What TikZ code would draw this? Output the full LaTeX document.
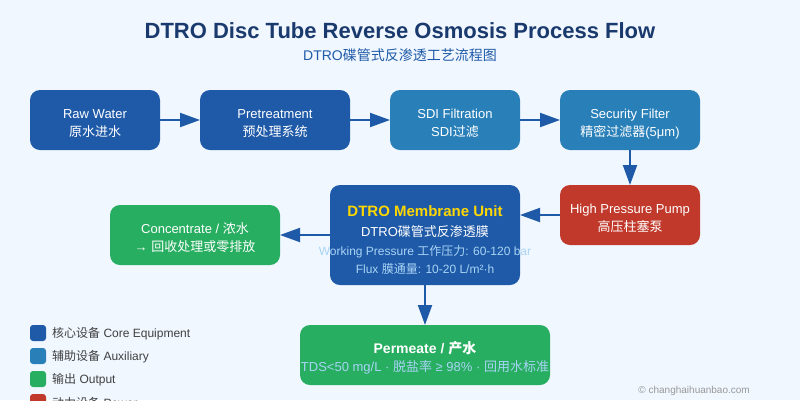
\documentclass[tikz,border=0pt]{standalone}
\usepackage{fontspec}
\setmainfont{Liberation Sans}
\newfontfamily\cjk{Noto Sans CJK SC}
\usetikzlibrary{arrows.meta}
\definecolor{bgc}{HTML}{F0F7FF}
\definecolor{corec}{HTML}{1F5AA8}
\definecolor{auxc}{HTML}{2980B9}
\definecolor{outc}{HTML}{27AE60}
\definecolor{powc}{HTML}{C0392B}
\definecolor{titc}{HTML}{1A3A6E}
\definecolor{palec}{HTML}{A8D4F5}
\definecolor{leadc}{HTML}{FFD700}
\newcommand{\cn}[1]{{\cjk #1}}
\newcommand{\fs}[1]{\fontsize{#1}{#1}\selectfont}
\newcommand{\tp}[1][17pt]{\rule{0pt}{#1}}
\tikzset{
  bx/.style={rounded corners=10pt,inner sep=0pt,outer sep=0pt,text=white,align=center,font=\fontsize{13}{18}\selectfont},
  flow/.style={draw=corec,line width=2pt,-{Triangle[length=20pt,width=14pt]}},
  key/.style={fill=#1,rounded corners=3pt,minimum size=16pt,inner sep=0pt,outer sep=0pt},
  keytx/.style={anchor=west,inner sep=0pt,text=black!75,font=\fs{12}}
}
\begin{document}
\begin{tikzpicture}[x=1pt,y=-1pt]
  \useasboundingbox[fill=bgc] (0,0) rectangle (800,400);
  % heading
  \node[text=titc,font=\bfseries\fs{22}] (head) at (400,31) {DTRO Disc Tube Reverse Osmosis Process Flow};
  \node[text=corec,font=\fs{14}] (subhead) at (400,55) {DTRO\cn{碟管式反渗透工艺流程图}};
  % top row
  \node[bx,fill=corec,minimum width=130pt,minimum height=60pt] (raw) at (95,120) {\tp Raw Water\\\cn{原水进水}};
  \node[bx,fill=corec,minimum width=150pt,minimum height=60pt] (pre) at (275,120) {\tp Pretreatment\\\cn{预处理系统}};
  \node[bx,fill=auxc,minimum width=130pt,minimum height=60pt] (sdi) at (455,120) {\tp SDI Filtration\\SDI\cn{过滤}};
  \node[bx,fill=auxc,minimum width=140pt,minimum height=60pt] (sec) at (630,120) {\tp Security Filter\\\cn{精密过滤器}(5μm)};
  % middle row
  \node[bx,fill=powc,minimum width=140pt,minimum height=60pt] (pump) at (630,215) {\tp High Pressure Pump\\\cn{高压柱塞泵}};
  \node[bx,fill=corec,minimum width=190pt,minimum height=100pt] (mem) at (425,235) {%
    \tp[20pt]{\color{leadc}\bfseries\fs{15}DTRO Membrane Unit}\\[2pt]
    DTRO\cn{碟管式反渗透膜}\\[1.5pt]
    {\color{palec}\fs{12}\makebox[0pt]{Working Pressure \cn{工作压力}: 60-120 bar}}\\[-0.5pt]
    {\color{palec}\fs{12}\makebox[0pt]{Flux \cn{膜通量}: 10-20 L/m²·h}}};
  \node[bx,fill=outc,minimum width=170pt,minimum height=60pt] (conc) at (195,235) {\tp Concentrate / \cn{浓水}\\→ \cn{回收处理或零排放}};
  % bottom
  \node[bx,fill=outc,minimum width=250pt,minimum height=60pt] (perm) at (425,355) {%
    \tp[18pt]{\bfseries\fs{14}Permeate / \cn{产水}}\\
    {\color{palec}\fs{13}\makebox[0pt]{TDS<50 mg/L · \cn{脱盐率} ≥ 98\% · \cn{回用水标准}}}};
  % flows
  \draw[flow] (raw) -- (pre);
  \draw[flow] (pre) -- (sdi);
  \draw[flow] (sdi) -- (sec);
  \draw[flow] (sec) -- (pump);
  \draw[flow] (pump.west) -- (pump.west -| mem.east);
  \draw[flow] (mem) -- (conc);
  \draw[flow] (mem) -- (perm);
  % legend
  \foreach \i/\c/\t in {0/corec/\cn{核心设备} Core Equipment,1/auxc/\cn{辅助设备} Auxiliary,2/outc/\cn{输出} Output,3/powc/\cn{动力设备} Power} {
    \node[key=\c] (sw\i) at (38,333+23*\i) {};
    \node[keytx,right=6pt,yshift=-0.5pt] (swt\i) at (sw\i.east) {\t};
  }
  \node[anchor=east,inner sep=0pt,text=black!40,font=\fs{10}] (copy) at (750,391) {© changhaihuanbao.com};
\end{tikzpicture}
\end{document}
